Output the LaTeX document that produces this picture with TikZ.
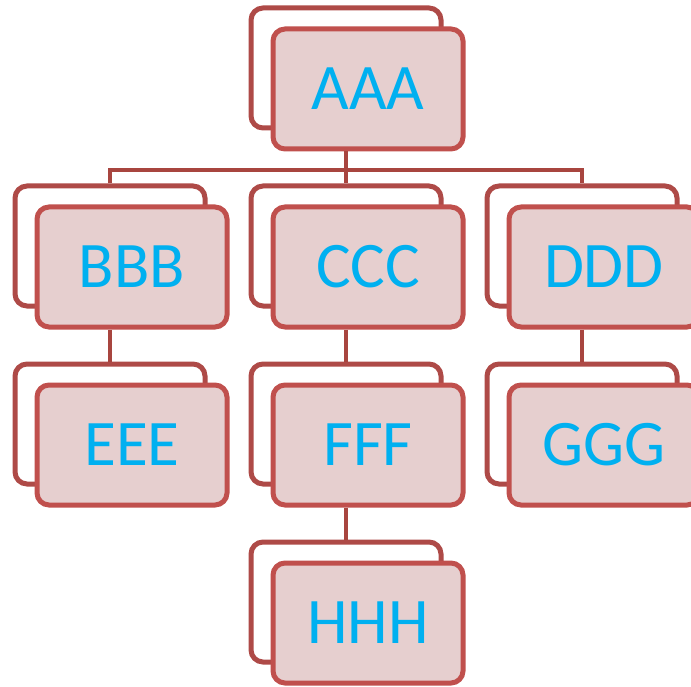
\documentclass[tikz,border=0pt]{standalone}
\usepackage{fontspec}
\setmainfont{Carlito}
\usetikzlibrary{positioning}
\definecolor{boxred}{HTML}{C0504D}
\definecolor{backred}{HTML}{AE4A47}
\definecolor{linkred}{HTML}{A8453F}
\definecolor{boxpink}{HTML}{E6CFCF}
\definecolor{textblue}{HTML}{00B0F0}
\tikzset
{
    frontbox/.style = {rectangle, rounded corners=12pt, draw=boxred, fill=boxpink, line width=5pt, minimum width=190pt, minimum height=120pt, align=center, text=textblue, font=\fontsize{65}{70}\selectfont},
    backbox/.style  = {rectangle, rounded corners=12pt, draw=backred, fill=white, line width=5pt, minimum width=190pt, minimum height=120pt},
    link/.style     = {draw=linkred, line width=4pt}
}

\begin{document}
\begin{tikzpicture}[x=1pt, y=-1pt]

	 \newcommand\COLDX{236}
	 \newcommand\ROWDY{178}
	 \newcommand\BACKDX{22}
	 \newcommand\BACKDY{21}

	 \useasboundingbox (0, 0) rectangle (691, 687);

	 \node (ab) [backbox]                     at (346, 68)                                 {};
	 \node (a)  [frontbox]                    at ([shift=({\BACKDX, \BACKDY})]ab)          {AAA};
	 \node (bb) [backbox]                     at ([shift=({-\COLDX, \ROWDY})]ab)           {};
	 \node (b)  [frontbox]                    at ([shift=({\BACKDX, \BACKDY})]bb)          {BBB};
	 \node (cb) [backbox]                     at ([shift=({0, \ROWDY})]ab)                 {};
	 \node (c)  [frontbox]                    at ([shift=({\BACKDX, \BACKDY})]cb)          {CCC};
	 \node (db) [backbox]                     at ([shift=({\COLDX, \ROWDY})]ab)            {};
	 \node (d)  [frontbox]                    at ([shift=({\BACKDX, \BACKDY})]db)          {DDD};
	 \node (eb) [backbox]                     at ([shift=({0, \ROWDY})]bb)                 {};
	 \node (e)  [frontbox]                    at ([shift=({\BACKDX, \BACKDY})]eb)          {EEE};
	 \node (fb) [backbox]                     at ([shift=({0, \ROWDY})]cb)                 {};
	 \node (f)  [frontbox]                    at ([shift=({\BACKDX, \BACKDY})]fb)          {FFF};
	 \node (gb) [backbox]                     at ([shift=({0, \ROWDY})]db)                 {};
	 \node (g)  [frontbox]                    at ([shift=({\BACKDX, \BACKDY})]gb)          {GGG};
	 \node (hb) [backbox]                     at ([shift=({0, \ROWDY})]fb)                 {};
	 \node (h)  [frontbox]                    at ([shift=({\BACKDX, \BACKDY})]hb)          {HHH};

	 \coordinate (bus) at ([shift=({0, 19})]ab.south |- a.south);

	 \draw[link] (ab.south |- a.south) -- (bus);
	 \draw[link] (bb.north) |- (bus) -| (db.north);
	 \draw[link] (bus) -- (cb.north);
	 \draw[link] (bb.south |- b.south) -- (eb.north);
	 \draw[link] (cb.south |- c.south) -- (fb.north);
	 \draw[link] (db.south |- d.south) -- (gb.north);
	 \draw[link] (fb.south |- f.south) -- (hb.north);
\end{tikzpicture}
\end{document}
